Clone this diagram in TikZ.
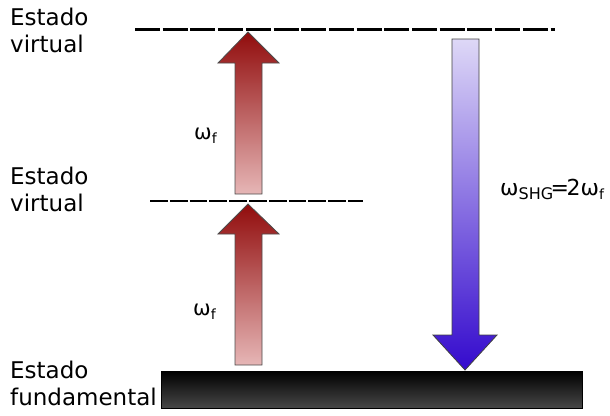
\documentclass[tikz,border=0pt]{standalone}
\usepackage{fontspec}
\setmainfont{DejaVu Sans}
\usetikzlibrary{arrows.meta}

\definecolor{photontop}{RGB}{145,12,12}
\definecolor{photonbot}{RGB}{230,182,182}
\definecolor{shgtop}{RGB}{222,216,247}
\definecolor{shgbot}{RGB}{52,10,205}

\begin{document}
\begin{tikzpicture}[x=1pt, y=-1pt,
  lbl/.style={anchor=base west, inner sep=0pt, font=\fontsize{23}{27}\selectfont},
  freq/.style={anchor=base west, inner sep=0pt, font=\fontsize{21}{25}\selectfont},
  levelfar/.style={line width=3pt, dash pattern=on 25pt off 2.7pt},
  levelnear/.style={line width=2.8pt, dash pattern=on 17.8pt off 2pt},
  redarr/.style={draw=black!70, line width=0.8pt, top color=photontop, bottom color=photonbot},
  bluearr/.style={draw=black!75, line width=0.8pt, top color=shgtop, bottom color=shgbot},
  groundbar/.style={draw=black, line width=0.8pt, top color=black, bottom color=black!72}
]
  \useasboundingbox (0,0) rectangle (610,415);
  % energy levels
  \coordinate (vtopL) at (135,29);  \coordinate (vtopR) at (555,29);
  \coordinate (vmidL) at (150,201); \coordinate (vmidR) at (363,201);
  \draw[levelfar]  (vtopL) -- (vtopR);
  \draw[levelnear] (vmidL) -- (vmidR);
  \draw[groundbar] (161,371) rectangle (582,408);
  % absorption arrows
  \draw[redarr] (248,32) -- (279,63) -- (262,63) -- (262,194) -- (235,194) -- (235,63) -- (218,63) -- cycle;
  \draw[redarr] (248,204) -- (279,234) -- (262,234) -- (262,365) -- (235,365) -- (235,234) -- (218,234) -- cycle;
  % emission arrow
  \draw[bluearr] (465,370) -- (497,335) -- (479,335) -- (479,39) -- (452,39) -- (452,335) -- (433,335) -- cycle;
  % labels
  \node[lbl] (est1)  at (10,25)  {Estado};
  \node[lbl] (virt1) at (10,52)  {virtual};
  \node[lbl] (est2)  at (10,184) {Estado};
  \node[lbl] (virt2) at (10,211) {virtual};
  \node[lbl] (est3)  at (10,378) {Estado};
  \node[lbl] (fund)  at (10,405) {fundamental};
  \node[freq] (wf1) at (194,139) {ω\raisebox{-4pt}{\fontsize{14}{14}\selectfont f}};
  \node[freq] (wf2) at (193,315) {ω\raisebox{-4pt}{\fontsize{14}{14}\selectfont f}};
  \node[freq, font=\fontsize{22}{26}\selectfont] (wshg) at (500,195)
    {ω\raisebox{-4pt}{\fontsize{16}{16}\selectfont SHG}\kern-2.5pt=\kern-2.5pt2ω\raisebox{-4pt}{\fontsize{14}{14}\selectfont f}};
\end{tikzpicture}
\end{document}
